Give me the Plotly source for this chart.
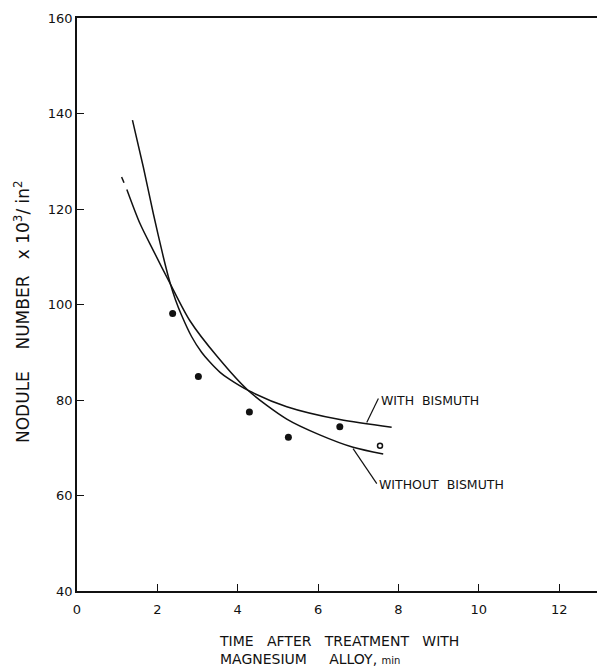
import plotly.graph_objects as go

# Fitted curve: WITH BISMUTH
with_x = [1.38, 1.65, 1.90, 2.15, 2.31, 2.45, 2.60, 2.85, 3.10, 3.30, 3.56, 3.80, 4.26, 5.22, 6.54, 7.83]
with_y = [138.6, 128.8, 119.0, 109.9, 104.7, 101.0, 97.8, 93.3, 90.0, 88.0, 85.8, 84.3, 82.0, 78.6, 75.9, 74.3]

# Fitted curve: WITHOUT BISMUTH (short dashed start, then solid)
without_x = [1.11, 1.17, None, 1.24, 1.57, 1.90, 2.31, 2.81, 3.50, 4.26, 5.22, 6.04, 6.87, 7.62]
without_y = [126.7, 125.5, None, 124.1, 116.9, 111.3, 104.5, 96.6, 89.0, 82.0, 76.0, 72.7, 70.1, 68.7]

# Measured points
pts_x = [2.38, 3.02, 4.29, 5.26, 6.54]
pts_y = [98.1, 84.9, 77.5, 72.2, 74.4]
odd_x = [7.54]
odd_y = [70.4]

x_ticks = [0, 2, 4, 6, 8, 10, 12]
y_ticks = [40, 60, 80, 100, 120, 140, 160]

FONT = "DejaVu Sans"
INK = "#111111"

fig = go.Figure()
fig.add_trace(go.Scatter(x=with_x, y=with_y, mode="lines",
                         line=dict(color=INK, width=1.5, shape="spline", smoothing=0.8),
                         hoverinfo="skip"))
fig.add_trace(go.Scatter(x=without_x, y=without_y, mode="lines", connectgaps=False,
                         line=dict(color=INK, width=1.5, shape="spline", smoothing=0.8),
                         hoverinfo="skip"))
fig.add_trace(go.Scatter(x=pts_x, y=pts_y, mode="markers",
                         marker=dict(color=INK, size=7, symbol="circle")))
fig.add_trace(go.Scatter(x=odd_x, y=odd_y, mode="markers",
                         marker=dict(color="white", size=5, symbol="circle",
                                     line=dict(color=INK, width=1.5))))

# leader lines for the curve labels
fig.add_shape(type="line", x0=7.21, y0=75.3, x1=7.50, y1=80.3,
              line=dict(color=INK, width=1.2))
fig.add_shape(type="line", x0=6.87, y0=69.8, x1=7.46, y1=62.5,
              line=dict(color=INK, width=1.2))

fig.add_annotation(x=7.52, y=79.8, text="WITH  BISMUTH", showarrow=False,
                   xanchor="left", yanchor="middle",
                   font=dict(family=FONT, size=12.5, color=INK))
fig.add_annotation(x=7.47, y=62.2, text="WITHOUT  BISMUTH", showarrow=False,
                   xanchor="left", yanchor="middle",
                   font=dict(family=FONT, size=12.5, color=INK))

# axis titles
fig.add_annotation(xref="paper", yref="paper", x=(217 - 77) / 520, y=(591 - 631) / 573,
                   text="TIME   AFTER   TREATMENT   WITH<br>MAGNESIUM     ALLOY, <span style='font-size:10px'>min</span>",
                   showarrow=False, xanchor="left", yanchor="top", align="left",
                   font=dict(family=FONT, size=14, color=INK))
fig.add_annotation(xref="paper", yref="paper", x=(22 - 77) / 520, y=(591 - 312) / 573,
                   text="NODULE    NUMBER   x 10<sup>3</sup>/ in<sup>2</sup>",
                   textangle=-90, showarrow=False, xanchor="center", yanchor="middle",
                   font=dict(family=FONT, size=17, color=INK))

fig.update_xaxes(range=[0, 12.94], tickvals=x_ticks, ticktext=[str(v) for v in x_ticks],
                 ticks="inside", ticklen=7, tickwidth=1.2, tickcolor=INK,
                 showline=True, linecolor=INK, linewidth=1.5, mirror=True,
                 showgrid=False, zeroline=False, ticklabelstandoff=6,
                 tickfont=dict(family=FONT, size=13, color=INK))
fig.update_yaxes(range=[40, 160], tickvals=y_ticks, ticktext=[str(v) for v in y_ticks],
                 ticks="inside", ticklen=7, tickwidth=1.2, tickcolor=INK,
                 showline=True, linecolor=INK, linewidth=1.5, mirror=False,
                 showgrid=False, zeroline=False, ticklabelstandoff=0,
                 tickfont=dict(family=FONT, size=13, color=INK))

fig.update_layout(width=597, height=668, margin=dict(l=77, r=0, t=18, b=77),
                  paper_bgcolor="white", plot_bgcolor="white", showlegend=False)

fig.write_html("out.html")
